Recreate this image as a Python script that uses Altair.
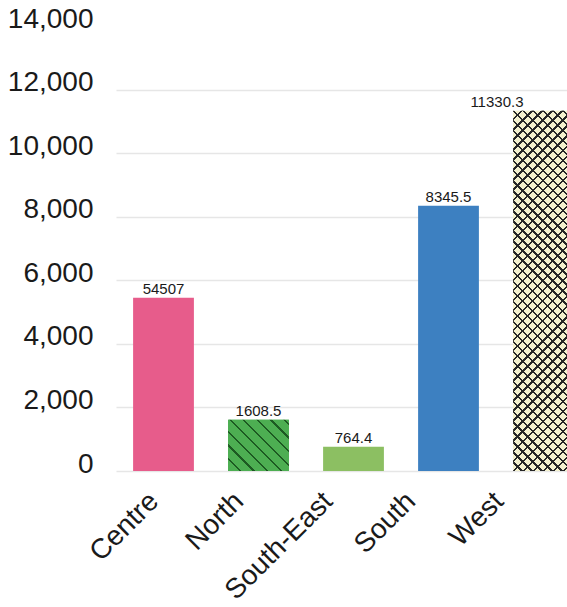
import altair as alt
import pandas as pd

# ---- data ----
regions = ["Centre", "North", "South-East", "South", "West"]
values = [5450.7, 1608.5, 764.4, 8345.5, 11330.3]
value_labels = ["54507", "1608.5", "764.4", "8345.5", "11330.3"]
bar_colors = ["#E75C8B", "#4DAE52", "#8CBF62", "#3D80C1", "#F4F1CE"]
y_ticks = [0, 2000, 4000, 6000, 8000, 10000, 12000, 14000]

df = pd.DataFrame({"region": regions, "value": values, "label": value_labels})

# ---- layout (pixels) ----
PAD_L, PAD_T, PAD_R, PAD_B = 110, 26, 0, 136
PLOT_W, PLOT_H = 457, 445
Y_MAX = 14000
X_RANGE = [6, 481]
P_INNER, P_OUTER = 0.36, 0.18
STEP = (X_RANGE[1] - X_RANGE[0]) / len(regions)
BAR_W = STEP * (1 - P_INNER)
PX = PLOT_H / Y_MAX

FONT = "Liberation Sans"


def stripe_stops(spacing_px, span_px, bg, line, frac):
    n = span_px / spacing_px
    period = 1.0 / n
    stops = []
    i = 0
    while i * period < 1.0:
        s = i * period
        m = min(s + period * (1 - frac), 1.0)
        e = min(s + period, 1.0)
        stops += [{"offset": s, "color": bg}, {"offset": m, "color": bg}]
        if m < 1.0:
            stops += [{"offset": m, "color": line}, {"offset": e, "color": line}]
        i += 1
    return stops


def hatch(value, direction, spacing_px, bg, line, frac):
    w, h = BAR_W, value * PX
    k = (w + h) / (w * w + h * h)
    span = (w + h) / 2 ** 0.5
    stops = stripe_stops(spacing_px, span, bg, line, frac)
    if direction == "back":  # "\" lines
        return alt.LinearGradient(gradient="linear", x1=0, y1=1, x2=k * w, y2=1 - k * h, stops=stops)
    return alt.LinearGradient(gradient="linear", x1=0, y1=0, x2=k * w, y2=k * h, stops=stops)


x_offsets = [-19, -29, -35, -47, -54]
offset_cond = [{"test": f"datum.value === '{r}'", "value": o} for r, o in zip(regions, x_offsets)]

x_enc = alt.X(
    "region:N",
    sort=regions,
    scale=alt.Scale(range=X_RANGE, paddingInner=P_INNER, paddingOuter=P_OUTER),
    axis=alt.Axis(
        title=None, labelAngle=-45, labelFontSize=28, labelFont=FONT, labelColor="#1a1a1a",
        ticks=False, domain=False, grid=False, labelPadding=16,
        labelOffset={"condition": offset_cond, "value": 0},
    ),
)
y_enc = alt.Y(
    "value:Q",
    scale=alt.Scale(domain=[0, Y_MAX], nice=False),
    axis=alt.Axis(
        title=None, values=y_ticks, format=",.0f", labelFontSize=28, labelFont=FONT,
        labelColor="#1a1a1a", ticks=False, domain=False, labelPadding=17,
        labelBaseline="middle", labelOffset=-7,
        gridColor="#e6e6e6", gridWidth=1.5,
        gridOpacity={"condition": {"test": f"datum.value >= {Y_MAX}", "value": 0}, "value": 1},
    ),
)

base = alt.Chart(df)

bars = base.mark_bar().encode(
    x=x_enc, y=y_enc,
    fill=alt.Fill("region:N", scale=alt.Scale(domain=regions, range=bar_colors), legend=None),
)

north_v = values[regions.index("North")]
west_v = values[regions.index("West")]

north_hatch = base.transform_filter(alt.datum.region == "North").mark_bar(
    fill=hatch(north_v, "back", 9.6, bar_colors[1], "#1d5a22", 0.17)
).encode(x=x_enc, y=y_enc)

west_fwd = base.transform_filter(alt.datum.region == "West").mark_bar(
    fill=hatch(west_v, "fwd", 7.1, "rgba(0,0,0,0)", "#262626", 0.23)
).encode(x=x_enc, y=y_enc)

west_back = base.transform_filter(alt.datum.region == "West").mark_bar(
    fill=hatch(west_v, "back", 7.1, "rgba(0,0,0,0)", "#262626", 0.23)
).encode(x=x_enc, y=y_enc)

labels = base.transform_filter(alt.datum.region != "West").mark_text(
    baseline="alphabetic", dy=-4, fontSize=15, font=FONT, color="#1a1a1a"
).encode(x=x_enc, y=y_enc, text="label:N")

west_label = base.transform_filter(alt.datum.region == "West").mark_text(
    baseline="alphabetic", align="right", dx=-20, dy=-4, fontSize=15, font=FONT, color="#1a1a1a"
).encode(x=x_enc, y=y_enc, text="label:N")

chart = alt.layer(bars, north_hatch, west_fwd, west_back, labels, west_label).properties(
    width=PLOT_W, height=PLOT_H,
    background="white",
    autosize=alt.AutoSizeParams(type="none"),
    padding={"left": PAD_L, "top": PAD_T, "right": PAD_R, "bottom": PAD_B},
).configure_view(stroke="transparent", strokeWidth=0)

chart.save("out.html", embed_options={"renderer": "svg", "actions": False})
